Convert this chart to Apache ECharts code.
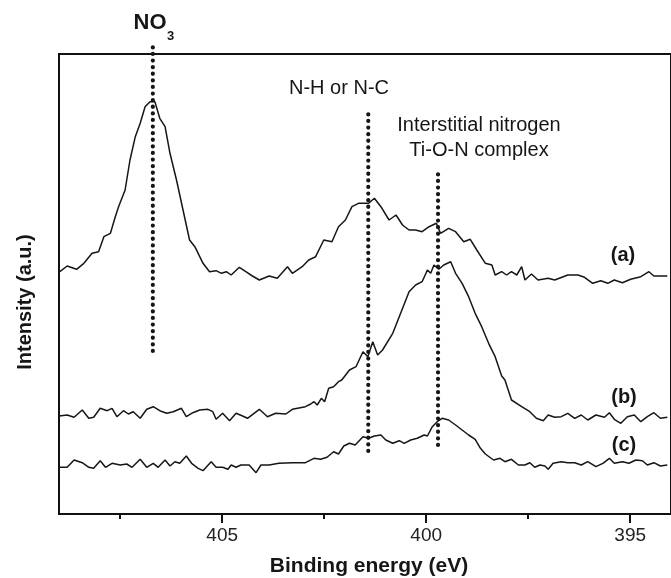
<!DOCTYPE html>
<html><head><meta charset="utf-8">
<script src="https://cdn.jsdelivr.net/npm/echarts@6/dist/echarts.min.js"></script>
<style>html,body{margin:0;padding:0;background:#fff}#c{width:671px;height:578px}</style>
</head><body><div id="c"></div>
<script>
// Binding energy (eV) / intensity (a.u.)
const energyA = [408.98,408.80,408.57,408.39,408.19,408.03,407.90,407.74,407.62,407.54,407.38,407.26,407.13,407.01,406.89,406.77,406.65,406.53,406.40,406.28,406.12,405.96,405.80,405.67,405.47,405.31,405.15,405.02,404.90,404.78,404.58,404.42,404.26,404.09,403.85,403.65,403.40,403.28,403.04,402.88,402.71,402.51,402.31,402.15,401.98,401.82,401.66,401.55,401.41,401.27,401.11,400.91,400.74,400.58,400.42,400.26,400.10,399.93,399.75,399.65,399.45,399.28,399.08,398.92,398.76,398.55,398.39,398.31,398.15,398.03,397.91,397.78,397.66,397.58,397.42,397.26,397.01,396.85,396.53,396.28,396.12,395.92,395.72,395.55,395.39,395.19,394.99,394.74,394.54,394.42,394.09];
const intensityA = [242.3,248,244.7,250.7,260.7,262.3,277.3,280.7,297.3,307.3,324,354,377.3,390.7,407.3,412.3,412.3,395.7,387.3,360.7,334,304,274,267.3,250.7,242.3,243.3,240.7,242.3,239,246.7,242.3,238,234,238,235.7,247.3,240.7,247.3,254,257.3,274,272.3,287.3,294,307.3,310.7,310.7,310.7,315.7,307.3,294,299,289,284,284,282.3,287.3,290.7,280.7,285.7,282.3,272.3,274.7,264,250.7,249,239,242.3,239,242.3,239,247.3,234,240,234,235.7,234,239,239,236.7,230.7,233.3,230.7,234,231.3,234.7,237.3,242.3,238,238];

const energyB = [409.00,408.80,408.63,408.43,408.27,408.15,407.99,407.82,407.70,407.58,407.42,407.30,407.18,407.01,406.85,406.69,406.53,406.36,406.20,406.00,405.88,405.72,405.55,405.35,405.23,405.15,404.99,404.82,404.66,404.50,404.38,404.09,403.89,403.69,403.44,403.28,402.96,402.83,402.75,402.67,402.57,402.49,402.39,402.27,402.15,402.07,401.88,401.72,401.55,401.43,401.31,401.19,401.07,400.82,400.66,400.42,400.26,400.10,399.97,399.89,399.81,399.69,399.57,399.40,399.28,399.12,398.96,398.80,398.64,398.47,398.31,398.15,398.07,397.99,397.91,397.66,397.46,397.30,397.13,397.01,396.85,396.69,396.53,396.36,396.20,396.04,395.84,395.63,395.51,395.39,395.23,395.07,394.90,394.74,394.58,394.42,394.26,394.09];
const intensityB = [98,99,96.7,104,95.7,96.7,105.7,103.3,105.7,97.3,103.3,100,102.3,95.7,104.7,107.3,103.3,100.7,102.3,105.7,97.3,101.3,104,104.7,102.3,94.7,100.7,93.3,100.7,98,95.7,104.7,97.3,100.7,100,104.7,107.3,110,112.3,109,115.7,112.3,125.7,127.3,132.3,134,144,147.3,162.3,157.3,172.3,159,164,180.7,197.3,222.3,229,232.3,244,240.7,249,244.7,249,252.3,240.7,230.7,217.3,200.7,187.3,170.7,157.3,138,134,124,114,107.3,102.3,95.7,93.3,99,96.7,97.3,100.7,95.7,99,94,99,96.7,101.3,94.7,90.7,97.3,99,92.3,97.3,101.3,95.7,96.7];

const energyC = [409.00,408.80,408.63,408.43,408.27,408.15,407.99,407.86,407.70,407.50,407.34,407.21,407.01,406.85,406.69,406.57,406.40,406.28,406.16,406.04,405.88,405.75,405.59,405.47,405.27,405.15,404.99,404.86,404.78,404.66,404.54,404.34,404.17,404.05,403.85,403.61,403.28,402.96,402.75,402.59,402.43,402.27,402.15,402.02,401.88,401.74,401.55,401.41,401.27,401.11,400.99,400.82,400.66,400.54,400.38,400.22,400.05,399.97,399.85,399.73,399.61,399.45,399.28,399.12,398.96,398.80,398.67,398.55,398.35,398.19,398.07,397.91,397.74,397.58,397.46,397.34,397.21,397.09,397.01,396.89,396.69,396.53,396.36,396.20,396.04,395.84,395.67,395.51,395.39,395.19,395.03,394.86,394.70,394.58,394.42,394.26,394.09];
const intensityC = [46.7,46.7,54,51.3,46.7,45.7,53.3,46.7,50.7,49,50,46.7,54.7,46.7,50.7,46.7,54,48,52.3,50.7,58,50.7,45.7,43.3,52.3,46.7,46.7,44.7,49,46.7,49,49,41.3,49,49,50.7,51.3,51.3,55.7,54.7,56.7,62.3,60,68,70.7,69,77.3,75.7,78,79,74,70.7,73.3,70.7,74,75.7,79,78,87.3,92.3,95.7,94,89,84,79,74.7,65.7,60,54,55.7,52.3,54.7,49,49,51.3,46.7,49,48,44.7,50.7,52.3,51.3,51.3,49,52.3,47.3,50.7,55.7,50.7,52.3,50.7,54,53.3,49,51.3,48,49];

// Dotted guide lines: position (eV) and vertical extent (a.u.)
const markerNames = ['NO3','N-H or N-C','Ti-O-N'];
const markerEnergy = [406.70, 401.42, 399.71];
const markerTop = [467, 402, 341];
const markerBottom = [163, 63, 69];

const majorTicks = [405, 400, 395];
const minorTicks = [407.5, 402.5, 397.5];
const xMin = 394, xMax = 409;
const yMin = 0, yMax = 460;

const zip = (xs, ys) => xs.map((x, i) => [x, ys[i]]);
const FONT = '"Liberation Sans", Arial, sans-serif';
const INK = '#161616';

const curveStyle = { color: INK, width: 1.5 };
const series = [
  { name: '(a)', data: zip(energyA, intensityA) },
  { name: '(b)', data: zip(energyB, intensityB) },
  { name: '(c)', data: zip(energyC, intensityC) }
].map(s => ({
  type: 'line', name: s.name, data: s.data, showSymbol: false, symbol: 'none',
  lineStyle: curveStyle, xAxisIndex: 0, yAxisIndex: 0, z: 3
}));
markerEnergy.forEach((e, i) => {
  series.push({
    type: 'line', name: markerNames[i], showSymbol: false, symbol: 'none', clip: false,
    data: [[e, markerBottom[i]], [e, markerTop[i]]],
    lineStyle: { color: INK, width: 4.2, type: [0.1, 6.5], cap: 'round' },
    xAxisIndex: 0, yAxisIndex: 0, z: 2
  });
});

const chart = echarts.init(document.getElementById('c'), null, { renderer: 'canvas' });
chart.setOption({
  animation: false,
  backgroundColor: '#fff',
  grid: { left: 59, right: -2, top: 54, bottom: 64, show: true, borderColor: '#111', borderWidth: 2, backgroundColor: 'transparent' },
  xAxis: [
    {
      type: 'value', min: xMin, max: xMax, inverse: true, position: 'bottom',
      axisLine: { show: true, lineStyle: { color: '#111', width: 2 } },
      axisTick: { show: true, length: 9, lineStyle: { color: '#111', width: 2 }, customValues: majorTicks },
      axisLabel: { show: true, customValues: majorTicks, margin: 12, color: '#222', fontSize: 19, fontFamily: FONT },
      splitLine: { show: false }
    },
    {
      type: 'value', min: xMin, max: xMax, inverse: true, position: 'bottom', gridIndex: 0,
      axisLine: { show: false },
      axisTick: { show: true, length: 5, lineStyle: { color: '#111', width: 2 }, customValues: minorTicks },
      axisLabel: { show: false },
      splitLine: { show: false }
    }
  ],
  yAxis: {
    type: 'value', min: yMin, max: yMax,
    axisLine: { show: true, lineStyle: { color: '#111', width: 2 } },
    axisTick: { show: false }, axisLabel: { show: false }, splitLine: { show: false }
  },
  series: series,
  graphic: [
    { type: 'text', x: 25, y: 302, rotation: Math.PI / 2, style: { text: 'Intensity (a.u.)', x: 0, y: 0, textAlign: 'center', textVerticalAlign: 'middle', font: 'bold 20px ' + FONT, fill: INK } },
    { type: 'text', x: 369, y: 566, style: { text: 'Binding energy (eV)', textAlign: 'center', textVerticalAlign: 'middle', font: 'bold 21px ' + FONT, fill: INK } },
    { type: 'text', x: 150, y: 23, style: { text: 'NO', textAlign: 'center', textVerticalAlign: 'middle', font: 'bold 22px ' + FONT, fill: INK } },
    { type: 'text', x: 167, y: 36, style: { text: '3', textAlign: 'left', textVerticalAlign: 'middle', font: 'bold 13px ' + FONT, fill: INK } },
    { type: 'text', x: 339, y: 88, style: { text: 'N-H or N-C', textAlign: 'center', textVerticalAlign: 'middle', font: '20px ' + FONT, fill: INK } },
    { type: 'text', x: 479, y: 125, style: { text: 'Interstitial nitrogen', textAlign: 'center', textVerticalAlign: 'middle', font: '20px ' + FONT, fill: INK } },
    { type: 'text', x: 479, y: 150, style: { text: 'Ti-O-N complex', textAlign: 'center', textVerticalAlign: 'middle', font: '20px ' + FONT, fill: INK } },
    { type: 'text', x: 623, y: 255, style: { text: '(a)', textAlign: 'center', textVerticalAlign: 'middle', font: 'bold 20px ' + FONT, fill: INK } },
    { type: 'text', x: 624, y: 397, style: { text: '(b)', textAlign: 'center', textVerticalAlign: 'middle', font: 'bold 20px ' + FONT, fill: INK } },
    { type: 'text', x: 624, y: 445, style: { text: '(c)', textAlign: 'center', textVerticalAlign: 'middle', font: 'bold 20px ' + FONT, fill: INK } }
  ]
});
</script>
</body></html>
